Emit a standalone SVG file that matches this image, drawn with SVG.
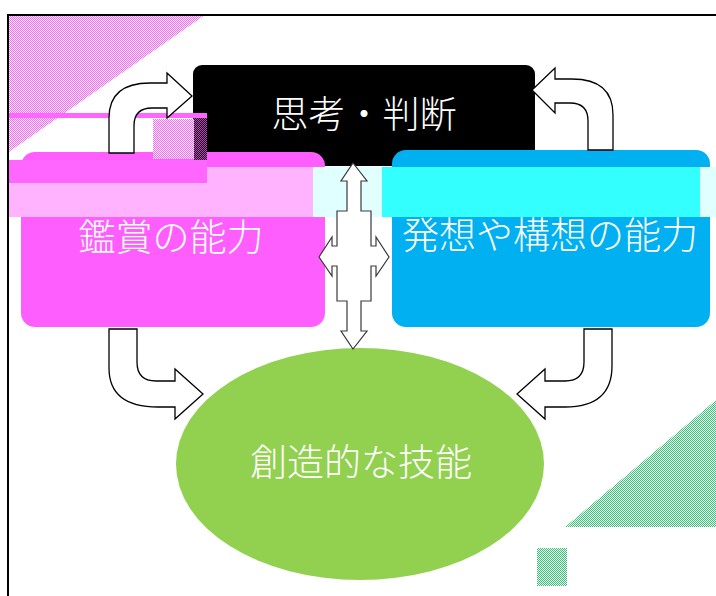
<svg xmlns="http://www.w3.org/2000/svg" width="716" height="596" viewBox="0 0 716 596">
<defs>
<style>
.lbl{font-family:"Noto Sans CJK JP","Noto Sans CJK SC",sans-serif;font-size:37px;font-weight:300;fill:#ffffff;text-anchor:middle;dominant-baseline:central}
.arr{fill:#ffffff;stroke:#000000;stroke-width:1.3;stroke-linejoin:miter}
.quad{fill:#ffffff;stroke:#3a3a3a;stroke-width:1.2}
</style>
<pattern id="pinkDots" width="2" height="2" patternUnits="userSpaceOnUse">
<rect width="2" height="2" fill="#ffffff"/>
<rect width="1" height="1" fill="#ff66ff"/>
<rect x="1" y="1" width="1" height="1" fill="#ff66ff"/>
</pattern>
<pattern id="purpleDots" width="2" height="2" patternUnits="userSpaceOnUse">
<rect width="2" height="2" fill="#000000"/>
<rect width="1" height="1" fill="#c040c0"/>
<rect x="1" y="1" width="1" height="1" fill="#c040c0"/>
</pattern>
<pattern id="greenDots" width="2" height="2" patternUnits="userSpaceOnUse">
<rect width="2" height="2" fill="#ffffff"/>
<rect width="1" height="1" fill="#33c477"/>
<rect x="1" y="1" width="1" height="1" fill="#33c477"/>
</pattern>
</defs>
<rect width="716" height="596" fill="#ffffff"/>

<!-- background decorations -->
<polygon points="9,15 205,15 9,152" fill="url(#pinkDots)"/>
<polygon points="716,400 716,527 565,527" fill="url(#greenDots)"/>
<rect x="537" y="548" width="30" height="38" fill="url(#greenDots)"/>

<!-- frame -->
<path d="M716,15 H8 V596" fill="none" stroke="#000000" stroke-width="2"/>

<!-- nodes -->
<g id="node-thinking">
<rect x="193" y="65" width="342" height="101" rx="9" fill="#000000"/>
<text class="lbl" x="364" y="112">思考・判断</text>
</g>
<g id="node-appreciation">
<rect x="21" y="152" width="304" height="175" rx="14" fill="#ff5eff"/>
<text class="lbl" x="171" y="235">鑑賞の能力</text>
</g>
<g id="node-ideation">
<rect x="392" y="150" width="318" height="177" rx="14" fill="#00b0f0"/>
<text class="lbl" x="550" y="233">発想や構想の能力</text>
</g>
<g id="node-skill">
<ellipse cx="360" cy="464" rx="184" ry="116" fill="#92d050"/>
<text class="lbl" x="361" y="460">創造的な技能</text>
</g>

<!-- glitch bands -->
<rect x="153" y="119" width="42" height="40" fill="url(#pinkDots)"/>
<rect x="194" y="118" width="13" height="44" fill="url(#purpleDots)"/>
<rect x="9" y="167" width="304" height="50" fill="#ffb3ff"/>
<rect x="9" y="160" width="198" height="23" fill="#ff66ff"/>
<rect x="9" y="113" width="198" height="5" fill="#ff66ff"/>
<rect x="313" y="167" width="69" height="50" fill="#e0ffff"/>
<rect x="382" y="167" width="318" height="50" fill="#33ffff"/>
<rect x="700" y="167" width="16" height="50" fill="#e0ffff"/>

<!-- connectors -->
<g id="connectors">
<path class="arr" d="M109,153 L109,118 Q109,83 150,83 L167,83 L167,73 L192,96 L167,118 L167,108 L152,108 Q134,108 134,126 L134,153 Z"/>
<path class="arr" d="M613,150 L613,115 Q613,79 572,79 L555,79 L555,68 L532,90 L555,113 L555,103 L570,103 Q588,103 588,121 L588,150 Z"/>
<path class="arr" d="M109,329 L109,368 Q109,407 158,407 L175,407 L175,419 L203,394 L175,369 L175,381 L156,381 Q137,381 137,362 L137,329 Z"/>
<path class="arr" d="M612,329 L612,366 Q612,407 565,407 L545,407 L545,419 L517,394 L545,369 L545,381 L565,381 Q584,381 584,362 L584,329 Z"/>
<path class="quad" d="M353,163 L367,181 L361,181 L361,211 L371,211 L371,246 L376,246 L376,237 L389,257 L376,276 L376,266 L371,266 L371,301 L361,301 L361,331 L367,331 L353,349 L341,331 L347,331 L347,301 L337,301 L337,266 L332,266 L332,276 L319,257 L332,237 L332,246 L337,246 L337,211 L347,211 L347,181 L341,181 Z"/>
</g>
</svg>
